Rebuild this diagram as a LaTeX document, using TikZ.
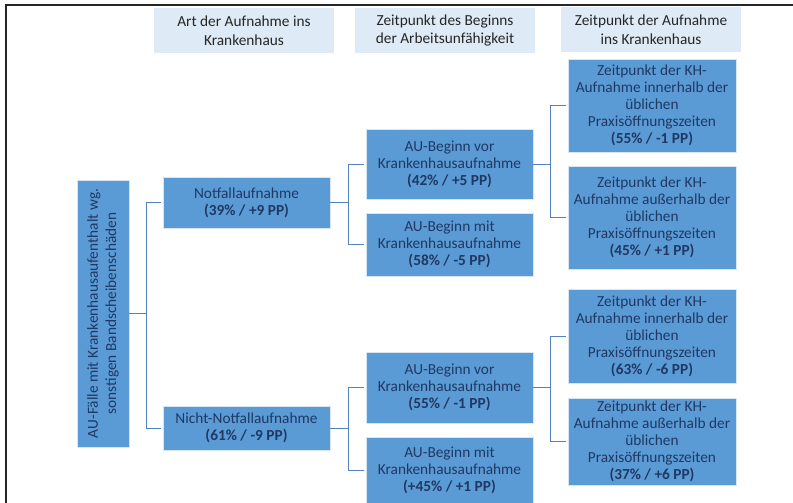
\documentclass[tikz,border=0pt]{standalone}
\usepackage{fontspec}
\setmainfont{Carlito}
\usepackage{xcolor,tikz}
\definecolor{boxblue}{RGB}{91,155,213}
\definecolor{hdrblue}{RGB}{222,234,246}
\definecolor{navy}{RGB}{31,56,100}
\definecolor{linkblue}{RGB}{84,130,190}

\begin{document}
\begin{tikzpicture}[x=0.75pt,y=-0.75pt,
  every node/.style={font=\fontsize{11.5pt}{12.8pt}\selectfont,align=center,inner sep=0pt},
  hdr/.style={fill=hdrblue,text=black!85,minimum width=135pt,minimum height=33.75pt,font=\fontsize{11.5pt}{14.2pt}\selectfont},
  box/.style={fill=boxblue,draw=white!75!boxblue,line width=.5pt,text=navy,minimum width=125.25pt},
  zbox/.style={box,minimum width=126pt},
  link/.style={draw=linkblue,line width=.75pt,shorten >=1.2pt}]
\useasboundingbox (0,0) rectangle (793,503);
\draw[black!85,line width=1.5pt] (793,5)--(6,5)--(6,503);
\node[hdr] (hart) at (244,30.5) {Art der Aufnahme ins\\Krankenhaus};
\node[hdr] (hbeg) at (445,30.5) {Zeitpunkt des Beginns\\der Arbeitsunfähigkeit};
\node[hdr] (hzeit) at (651,29.5) {Zeitpunkt der Aufnahme\\ins Krankenhaus};
\node[box,rotate=90,minimum width=200.25pt,minimum height=39pt,font=\fontsize{11.5pt}{13.6pt}\selectfont] (root) at (103,313.5) {AU-Fälle mit Krankenhausaufenthalt wg.\\sonstigen Bandscheibenschäden};
\node[box,minimum height=38.25pt] (nf) at (246.5,202.5) {Notfallaufnahme\\\textbf{(39\% / +9 PP)}};
\node[box,minimum height=33pt] (nnf) at (246.5,428) {Nicht-Notfallaufnahme\\\textbf{(61\% / -9 PP)}};
\node[box,minimum height=52.5pt] (vor1) at (449.5,164) {AU-Beginn vor\\Krankenhausaufnahme\\\textbf{(42\% / +5 PP)}};
\node[box,minimum height=47.25pt] (mit1) at (449.5,244.5) {AU-Beginn mit\\Krankenhausaufnahme\\\textbf{(58\% / -5 PP)}};
\node[box,minimum height=53.25pt] (vor2) at (449.5,387.5) {AU-Beginn vor\\Krankenhausaufnahme\\\textbf{(55\% / -1 PP)}};
\node[box,minimum height=49.5pt] (mit2) at (449.5,470) {AU-Beginn mit\\Krankenhausaufnahme\\\textbf{(+45\% / +1 PP)}};
\node[zbox,minimum height=69.75pt] (inn1) at (652,105.5) {Zeitpunkt der KH-\\Aufnahme innerhalb der\\üblichen\\Praxisöffnungszeiten\\\textbf{(55\% / -1 PP)}};
\node[zbox,minimum height=77.25pt] (aus1) at (652,217.5) {Zeitpunkt der KH-\\Aufnahme außerhalb der\\üblichen\\Praxisöffnungszeiten\\\textbf{(45\% / +1 PP)}};
\node[zbox,minimum height=70.5pt] (inn2) at (652,336) {Zeitpunkt der KH-\\Aufnahme innerhalb der\\üblichen\\Praxisöffnungszeiten\\\textbf{(63\% / -6 PP)}};
\node[zbox,minimum height=65.25pt] (aus2) at (652,441.5) {Zeitpunkt der KH-\\Aufnahme außerhalb der\\üblichen\\Praxisöffnungszeiten\\\textbf{(37\% / +6 PP)}};
\draw[link] (root.south) -- ++(17,0) |- (nf.west);
\draw[link] (root.south) -- ++(17,0) |- (nnf.west);
\draw[link] (nf.east) -- ++(18,0) |- (vor1.west);
\draw[link] (nf.east) -- ++(18,0) |- (mit1.west);
\draw[link] (nnf.east) -- ++(18,0) |- (vor2.west);
\draw[link] (nnf.east) -- ++(18,0) |- (mit2.west);
\draw[link] (vor1.east) -- ++(17,0) |- (inn1.west);
\draw[link] (vor1.east) -- ++(17,0) |- (aus1.west);
\draw[link] (vor2.east) -- ++(17,0) |- (inn2.west);
\draw[link] (vor2.east) -- ++(17,0) |- (aus2.west);
\end{tikzpicture}
\end{document}
